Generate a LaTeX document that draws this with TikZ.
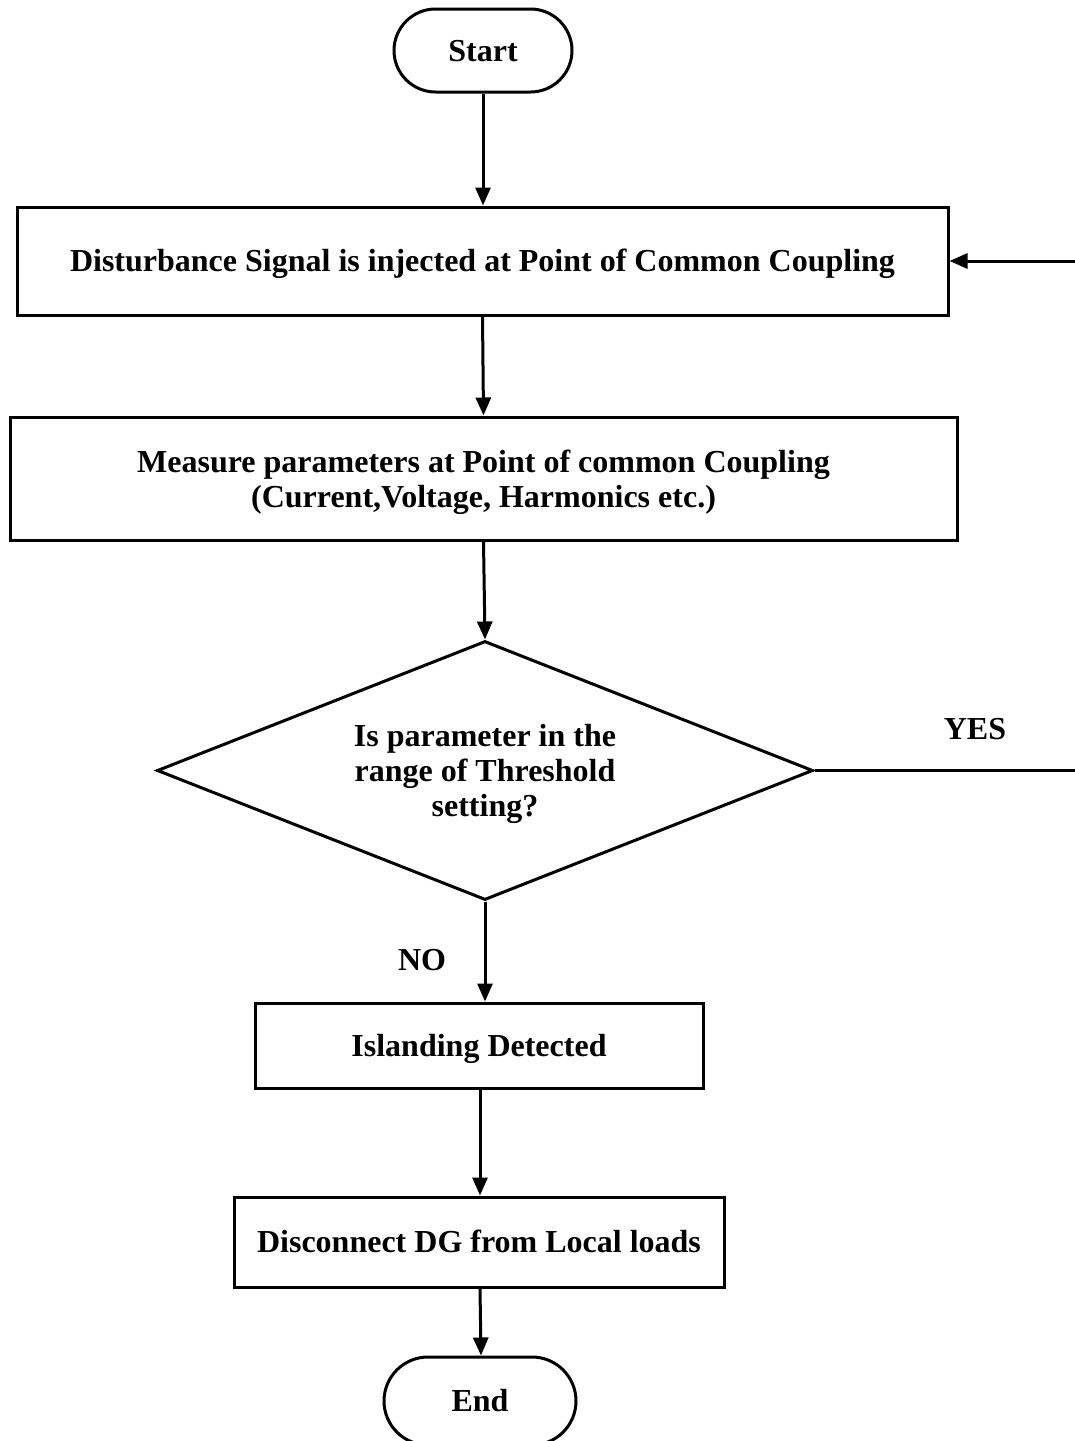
\documentclass[tikz,border=0pt]{standalone}
\usepackage{fontspec}
\setmainfont{Liberation Serif}
\usetikzlibrary{shapes.misc,shapes.geometric,arrows.meta}
\begin{document}
\begin{tikzpicture}[x=1pt,y=-1pt,
  every node/.style={font=\fontsize{32}{35}\selectfont\bfseries, align=center, inner sep=0pt},
  oneline/.style={text height=21.2pt, text depth=0pt},
  multiline/.style={text depth=0pt},
  stadium/.style={draw, rounded rectangle, line width=3pt, oneline},
  procbox/.style={draw, rectangle, line width=3pt},
  decbox/.style={draw, diamond, line width=3pt, aspect=2.53, minimum width=656pt, minimum height=259pt, multiline},
  arr/.style={line width=3pt, -{Triangle[length=18pt,width=15pt]}}]
\useasboundingbox (0,0) rectangle (1075,1441);
\clip (0,0) rectangle (1075,1441);
\node[stadium, minimum width=178pt, minimum height=83pt] (start) at (483,50.5) {Start};
\node[procbox, oneline, minimum width=931pt, minimum height=108pt] (b1) at (482.5,261) {Disturbance Signal is injected at Point of Common Coupling};
\node[procbox, multiline, minimum width=947pt, minimum height=123pt] (b2) at (483.5,478.5) {Measure parameters at Point of common Coupling\\(Current,Voltage, Harmonics etc.)};
\node[decbox] (d) at (485,770.5) {Is parameter in the\\range of Threshold\\setting?};
\node[procbox, oneline, minimum width=448pt, minimum height=85pt] (b3) at (479,1045.5) {Islanding Detected};
\node[procbox, oneline, minimum width=490pt, minimum height=90pt] (b4) at (479,1242) {Disconnect DG from Local loads};
\node[stadium, minimum width=192pt, minimum height=88pt] (end) at (480,1401) {End};
\node[oneline] (yes) at (975,728.5) {YES};
\node[oneline] (no) at (422,960) {NO};
\coordinate (loopc) at (1084,770.5);
\draw[arr] (start.south) -- (start.south |- b1.north);
\draw[arr] (b1.south) -- (b2.north);
\draw[arr] (b2.south) -- (d.north);
\draw[arr] (d.south) -- (d.south |- b3.north);
\draw[arr] (b3.south -| b4.north) ++(1,0) -- ([xshift=1pt]b4.north);
\draw[arr] (b4.south) ++(1,0) -- ([xshift=1pt]end.north);
\draw[arr] (d.east) -- (loopc) |- (b1.east);
\end{tikzpicture}
\end{document}
